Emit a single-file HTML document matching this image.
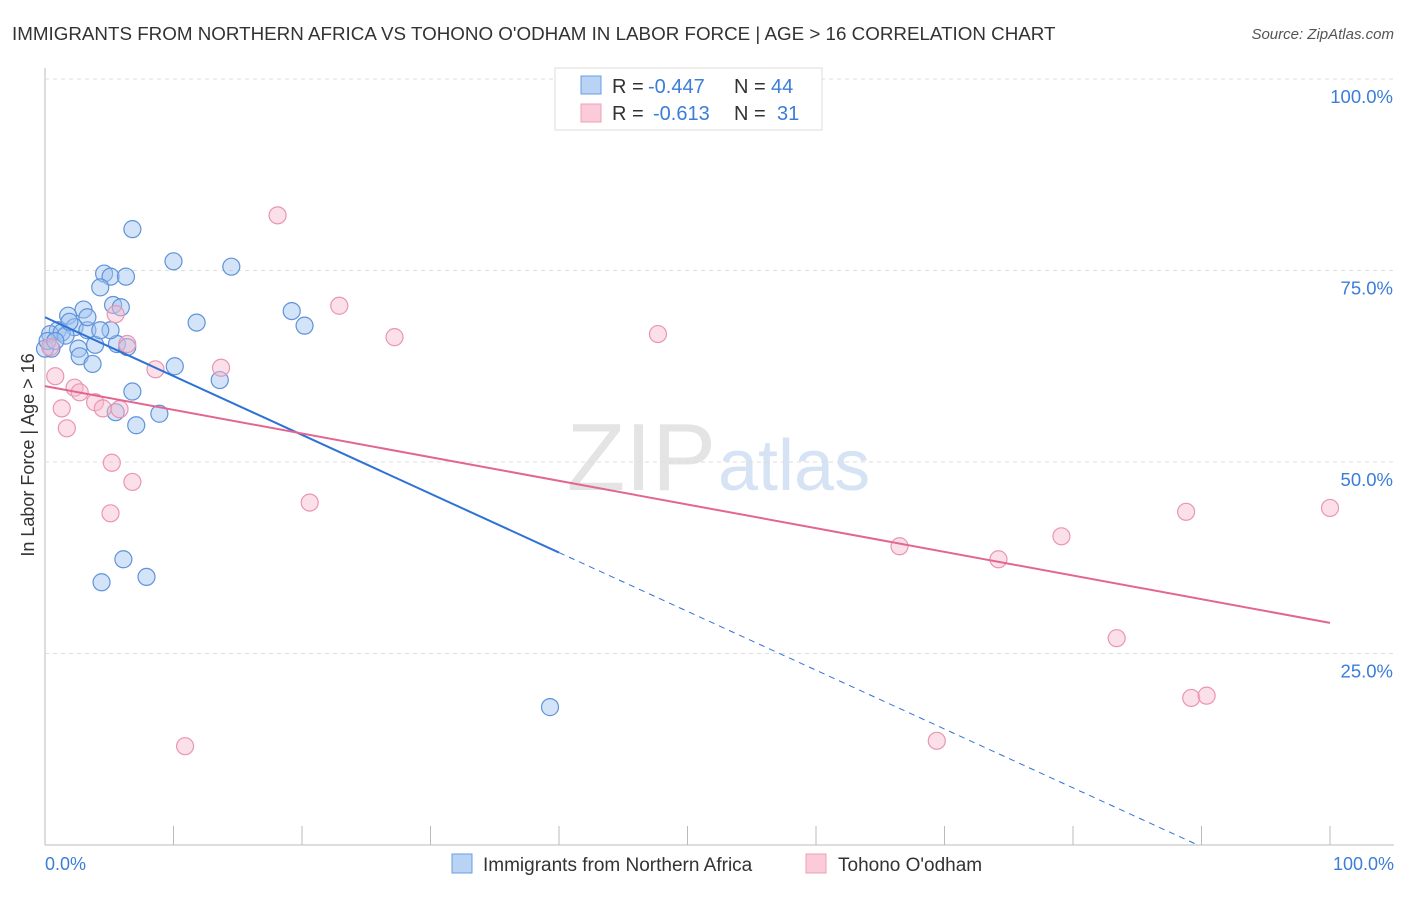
<!DOCTYPE html>
<html><head><meta charset="utf-8"><style>
body{margin:0;background:#fff;font-family:"Liberation Sans",sans-serif}
svg text{font-family:"Liberation Sans",sans-serif}
</style></head><body>
<svg id="c" width="1406" height="892">
<text x="12" y="40" font-size="18.8" fill="#333">IMMIGRANTS FROM NORTHERN AFRICA VS TOHONO O'ODHAM IN LABOR FORCE | AGE &gt; 16 CORRELATION CHART</text>
<text x="1394" y="39" font-size="15" fill="#555" font-style="italic" text-anchor="end">Source: ZipAtlas.com</text>
<text x="716" y="490" font-size="96" fill="#e4e4e4" text-anchor="end" font-family="Liberation Serif">ZIP</text>
<text x="718" y="490" font-size="72" fill="#d5e3f5">atlas</text>
<text x="34" y="455" font-size="18" fill="#333" text-anchor="middle" transform="rotate(-90 34 455)">In Labor Force | Age &gt; 16</text>
<g id="grid"></g><g id="pts"></g><g id="lines"></g>
<g>
<rect x="555" y="68" width="267" height="62" fill="#fff" stroke="#ddd"/>
<rect x="581" y="76" width="20" height="18" fill="#b9d3f5" stroke="#6a9be0"/>
<rect x="581" y="104" width="20" height="18" fill="#fbcbd9" stroke="#eba0b7"/>
<text x="612" y="93" font-size="20" fill="#333">R =</text>
<text x="648" y="93" font-size="20" fill="#3b7dd8">-0.447</text>
<text x="734" y="93" font-size="20" fill="#333">N =</text>
<text x="771" y="93" font-size="20" fill="#3b7dd8">44</text>
<text x="612" y="120" font-size="20" fill="#333">R =</text>
<text x="653" y="120" font-size="20" fill="#3b7dd8">-0.613</text>
<text x="734" y="120" font-size="20" fill="#333">N =</text>
<text x="777" y="120" font-size="20" fill="#3b7dd8">31</text>
</g>
<g>
<rect x="452" y="854" width="20" height="19" fill="#b9d3f5" stroke="#6a9be0"/>
<text x="483" y="871" font-size="19" fill="#333">Immigrants from Northern Africa</text>
<rect x="806" y="854" width="20" height="19" fill="#fbcbd9" stroke="#eba0b7"/>
<text x="838" y="871" font-size="19" fill="#333">Tohono O'odham</text>
</g>
<text x="45" y="870" font-size="18" fill="#3b7dd8">0.0%</text>
<text x="1394" y="870" font-size="18" fill="#3b7dd8" text-anchor="end">100.0%</text>
</svg>
<script>
const yTicks=[100,75,50,25];
const yTickLabels=["100.0%","75.0%","50.0%","25.0%"];
const blueX=[6.8,10.0,14.5,4.6,5.1,6.3,4.3,5.3,5.9,19.2,20.2,11.8,3.0,1.8,2.3,1.0,3.3,0.4,1.3,5.6,3.9,6.4,2.6,2.7,0.5,0,10.1,3.7,13.6,6.8,5.5,8.9,7.1,6.1,7.9,4.4,39.3,1.6,5.1,0.2,3.3,0.8,4.3,1.9];
const blueY=[80.4,76.2,75.5,74.6,74.2,74.2,72.8,70.5,70.2,69.7,67.8,68.2,69.9,69.1,67.6,67.2,67.2,66.7,66.9,65.4,65.3,65.0,64.8,63.8,64.8,64.8,62.5,62.8,60.7,59.2,56.5,56.3,54.8,37.3,35.0,34.3,18.0,66.5,67.2,65.8,68.9,65.8,67.2,68.3];
const pinkX=[18.1,22.9,27.2,47.7,5.5,6.4,8.6,13.7,0.8,2.3,2.7,3.9,4.5,5.8,1.3,1.7,5.2,6.8,5.1,20.6,10.9,66.5,74.2,79.1,88.8,100,83.4,89.2,90.4,69.4,0.4];
const pinkY=[82.2,70.4,66.3,66.7,69.3,65.4,62.1,62.3,61.2,59.7,59.1,57.8,57.0,56.9,57.0,54.4,49.9,47.4,43.3,44.7,12.9,39.0,37.3,40.3,43.5,44.0,27.0,19.2,19.5,13.6,65.0];
const blueTrend=[68.9,-0.768];
const pinkTrend=[59.9,-0.309];
const X=v=>45+v*12.85, Y=v=>845-v*7.66;
const NS="http://www.w3.org/2000/svg";
function mk(t,a,p){const e=document.createElementNS(NS,t);for(const k in a)e.setAttribute(k,a[k]);p.appendChild(e);return e;}
const g=document.getElementById('grid');
const ax=mk('line',{x1:45,y1:68,x2:45,y2:845,stroke:'#bbb'},g);


const bx=mk('line',{x1:45,y1:845,x2:1394,y2:845,stroke:'#bbb'},g);


yTicks.forEach((t,i)=>{
 const l=mk('line',{x1:45,y1:Y(t),x2:1394,y2:Y(t),stroke:'#ddd','stroke-dasharray':'4,4'},g);
 
 
 const tx=mk('text',{x:1393,y:Y(t)+24,'font-size':18.5,fill:'#3b7dd8','text-anchor':'end'},g);
 tx.textContent=yTickLabels[i];
 
 
});
for(let i=0;i<=10;i++){const l=mk('line',{x1:X(i*10),y1:826,x2:X(i*10),y2:845,stroke:'#bbb'},g);
 
 }
const p=document.getElementById('pts');
blueX.forEach((x,i)=>{const c=mk('circle',{cx:X(x),cy:Y(blueY[i]),r:8.5,fill:'rgba(160,196,240,0.45)',stroke:'#5f93dc','stroke-width':1.2},p);
 
 });
pinkX.forEach((x,i)=>{const c=mk('circle',{cx:X(x),cy:Y(pinkY[i]),r:8.5,fill:'rgba(248,186,206,0.45)',stroke:'#e996b0','stroke-width':1.2},p);
 
 });
const L=document.getElementById('lines');
const b1=mk('line',{x1:X(0),y1:Y(blueTrend[0]),x2:X(40),y2:Y(blueTrend[0]+40*blueTrend[1]),stroke:'#2f72d6','stroke-width':2},L);


const xe=-blueTrend[0]/blueTrend[1];
const b2=mk('line',{x1:X(40),y1:Y(blueTrend[0]+40*blueTrend[1]),x2:X(xe),y2:Y(0),stroke:'#2f72d6','stroke-width':1,'stroke-dasharray':'6,5'},L);


const p1=mk('line',{x1:X(0),y1:Y(pinkTrend[0]),x2:X(100),y2:Y(pinkTrend[0]+100*pinkTrend[1]),stroke:'#e3668f','stroke-width':2},L);


</script>
</body></html>
